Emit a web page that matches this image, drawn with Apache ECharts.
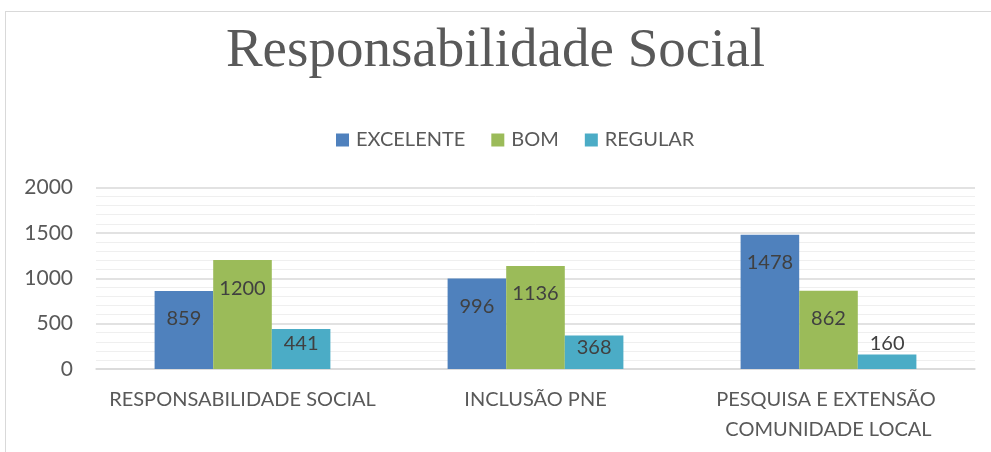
<!DOCTYPE html>
<html><head><meta charset="utf-8">
<script src="https://cdn.jsdelivr.net/npm/echarts@6/dist/echarts.min.js"></script>
<style>html,body{margin:0;padding:0;background:#fff;overflow:hidden;}
#frame{position:absolute;left:5px;top:11px;width:1000px;height:460px;border-left:1px solid #d9d9d9;border-top:1px solid #d9d9d9;}
#chart{position:absolute;left:0;top:0;width:991px;height:452px;}</style>
</head><body><div id="frame"></div><div id="chart"></div>
<script>
const categories = ['RESPONSABILIDADE SOCIAL', 'INCLUSÃO PNE', 'PESQUISA E EXTENSÃO COMUNIDADE LOCAL'];
const seriesNames = ['EXCELENTE', 'BOM', 'REGULAR'];
const excelente = [859, 996, 1478];
const bom = [1200, 1136, 862];
const regular = [441, 368, 160];
const colors = ['#4F81BD', '#9BBB59', '#4BACC6'];
const font = 'Lato, "Open Sans", sans-serif';

function labelFor(v) {
  if (v >= 500) return { position: 'insideTop', distance: 18 };
  if (v >= 300) return { position: 'inside', offset: [0, -5] };
  return { position: 'top', distance: 1 };
}
function mk(name, values, color) {
  return {
    name: name, type: 'bar', barGap: '0%', barCategoryGap: '40%',
    itemStyle: { color: color },
    label: { show: true, fontFamily: font, fontSize: 20, color: '#404040' },
    data: values.map(v => ({ value: v, label: labelFor(v) }))
  };
}
const chart = echarts.init(document.getElementById('chart'));
chart.setOption({
  animation: false,
  title: { text: 'Responsabilidade Social', left: 'center', top: 19,
    textStyle: { fontFamily: '"Liberation Serif", serif', fontSize: 55, fontWeight: 'normal', color: '#595959' } },
  legend: { top: 125, left: 331, itemWidth: 13, itemHeight: 13, itemGap: 26, icon: 'rect',
    textStyle: { fontFamily: font, fontSize: 20, color: '#595959', padding: [0, 0, 0, 2] },
    data: seriesNames },
  grid: { left: 96, right: 16, top: 187.5, bottom: 83 },
  xAxis: { type: 'category', data: categories,
    axisLine: { lineStyle: { color: '#d9d9d9', width: 1.5 } }, axisTick: { show: false },
    axisLabel: { fontFamily: font, fontSize: 20, color: '#595959', lineHeight: 30, margin: 16, width: 285, overflow: 'break', interval: 0 } },
  yAxis: { type: 'value', min: 0, max: 2000, interval: 500,
    axisLine: { show: false }, axisTick: { show: false },
    axisLabel: { fontFamily: font, fontSize: 21, color: '#595959', margin: 23, formatter: v => String(v) },
    splitLine: { lineStyle: { color: '#d9d9d9', width: 1.5 } },
    minorTick: { show: false, splitNumber: 5 },
    minorSplitLine: { show: true, lineStyle: { color: '#efefef', width: 1 } } },
  series: [mk(seriesNames[0], excelente, colors[0]), mk(seriesNames[1], bom, colors[1]), mk(seriesNames[2], regular, colors[2])]
});
</script></body></html>
